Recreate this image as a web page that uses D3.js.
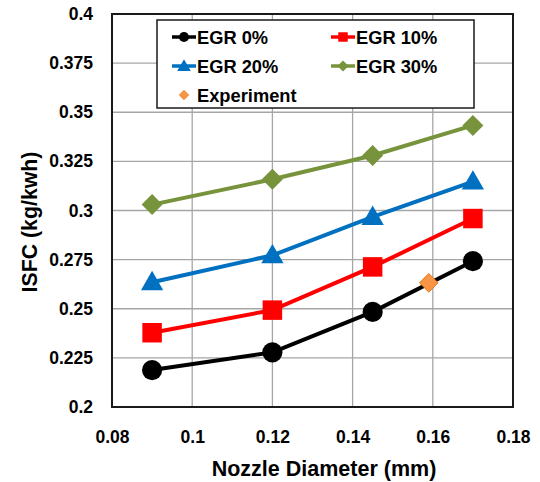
<!DOCTYPE html>
<html><head><meta charset="utf-8">
<script src="https://cdn.jsdelivr.net/npm/d3@7"></script>
<style>body{margin:0;background:#fff}svg{display:block}text{font-family:"Liberation Sans",Arial,sans-serif;font-weight:bold}</style>
</head><body><svg id="c" width="540" height="482"></svg>
<script>
const diameters=[0.09,0.12,0.145,0.17];
const egr0=[0.2188,0.2278,0.2484,0.2742];
const egr10=[0.2378,0.2493,0.2713,0.2959];
const egr20=[0.2635,0.2772,0.2967,0.3147];
const egr30=[0.303,0.3159,0.328,0.3433];
const expX=[0.159];
const expY=[0.2632];
const xTicks=[0.08,0.1,0.12,0.14,0.16,0.18];
const yTicks=[0.2,0.225,0.25,0.275,0.3,0.325,0.35,0.375,0.4];
const seriesNames=["EGR 0%","EGR 10%","EGR 20%","EGR 30%"];
const colors=["#000000","#FF0000","#0070C0","#77933C"];
const shapes=["circle","square","triangle","diamond"];
const seriesVals=[egr0,egr10,egr20,egr30];

const svg=d3.select("#c");
const L=112,R=513,T=14,B=407;
const x=d3.scaleLinear().domain([0.08,0.18]).range([L,R]);
const y=d3.scaleLinear().domain([0.2,0.4]).range([B,T]);

// grid
svg.append("g").selectAll("line").data(xTicks).join("line")
 .attr("x1",d=>x(d)).attr("x2",d=>x(d)).attr("y1",T).attr("y2",B)
 .attr("stroke","#a6a6a6").attr("stroke-width",1.3);
svg.append("g").selectAll("line").data(yTicks).join("line")
 .attr("y1",d=>y(d)).attr("y2",d=>y(d)).attr("x1",L).attr("x2",R)
 .attr("stroke","#a6a6a6").attr("stroke-width",1.3);
svg.append("rect").attr("x",L).attr("y",T).attr("width",R-L).attr("height",B-T)
 .attr("fill","none").attr("stroke","#1a1a1a").attr("stroke-width",2);

const xa=svg.append("g").attr("transform",`translate(0,${B})`)
 .call(d3.axisBottom(x).tickValues(xTicks).tickFormat(d3.format("~g")).tickSize(0).tickPadding(24));
xa.select(".domain").remove();
xa.selectAll("text").attr("font-size",17.5).attr("fill","#000").style("font-family","Liberation Sans, Arial").style("font-weight","bold");
const ya=svg.append("g").attr("transform",`translate(${L},0)`)
 .call(d3.axisLeft(y).tickValues(yTicks).tickFormat(d3.format("~g")).tickSize(0).tickPadding(19));
ya.select(".domain").remove();
ya.selectAll("text").attr("font-size",17.5).attr("fill","#000").style("font-family","Liberation Sans, Arial").style("font-weight","bold");

svg.append("text").attr("x",324).attr("y",476).attr("text-anchor","middle").attr("font-size",21.5).text("Nozzle Diameter (mm)");
svg.append("text").attr("transform","translate(36.5,222) rotate(-90)").attr("text-anchor","middle").attr("font-size",21.3).text("ISFC (kg/kwh)");

function sym(shape,size){
  const m={circle:d3.symbolCircle,square:d3.symbolSquare,triangle:d3.symbolTriangle,diamond:d3.symbolSquare};
  return d3.symbol().type(m[shape]).size(size)();
}
const rot=s=>s==="diamond"?" rotate(45)":"";
const sizes={circle:320,square:380,triangle:215,diamond:220};

const line=d3.line().x((d,i)=>x(diameters[i])).y(d=>y(d));
seriesVals.forEach((vals,k)=>{
  svg.append("path").attr("d",line(vals)).attr("fill","none").attr("stroke",colors[k]).attr("stroke-width",4);
  svg.append("g").selectAll("path").data(vals).join("path")
   .attr("transform",(d,i)=>`translate(${x(diameters[i])},${y(d)+(shapes[k]==="triangle"?1.5:0)})`+rot(shapes[k]))
   .attr("d",sym(shapes[k],sizes[shapes[k]])).attr("fill",colors[k]);
});
svg.append("g").selectAll("path").data(expY).join("path")
 .attr("transform",(d,i)=>`translate(${x(expX[i])},${y(d)}) rotate(45)`)
 .attr("d",sym("diamond",175)).attr("fill","#F79646").attr("stroke","#E46C0A").attr("stroke-width",0.8);

// legend
const lg=svg.append("g");
lg.append("rect").attr("x",157).attr("y",20).attr("width",317).attr("height",88).attr("fill","#fff").attr("stroke","#1a1a1a").attr("stroke-width",1.5);
const legPos=[[172,37],[331,37],[172,66],[331,66]];
const legSizes={circle:80,square:90,triangle:80,diamond:60};
seriesNames.forEach((n,k)=>{
  const [lx,ly]=legPos[k];
  lg.append("line").attr("x1",lx).attr("x2",lx+24).attr("y1",ly).attr("y2",ly).attr("stroke",colors[k]).attr("stroke-width",3.5);
  lg.append("path").attr("transform",`translate(${lx+12},${ly+(shapes[k]==="triangle"?1:0)})`+rot(shapes[k])).attr("d",sym(shapes[k],legSizes[shapes[k]])).attr("fill",colors[k]);
  lg.append("text").attr("x",lx+25).attr("y",ly+6.5).attr("font-size",18.3).text(n);
});
lg.append("path").attr("transform","translate(184,95) rotate(45)").attr("d",sym("diamond",45)).attr("fill","#F79646").attr("stroke","#E46C0A").attr("stroke-width",0.6);
lg.append("text").attr("x",197).attr("y",101.5).attr("font-size",18.3).text("Experiment");
</script></body></html>
